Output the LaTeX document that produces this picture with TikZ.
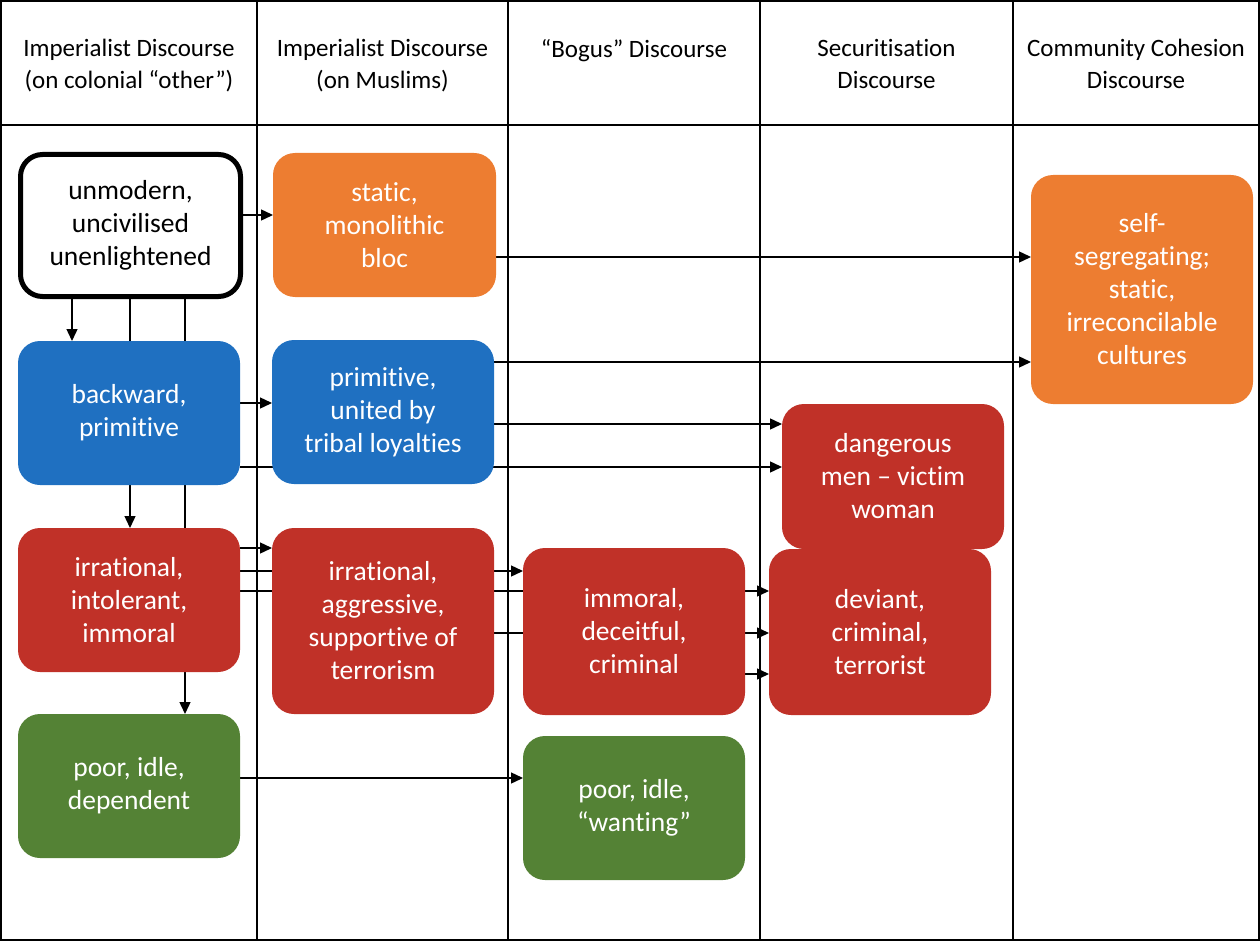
\documentclass[tikz,border=0pt]{standalone}
\usepackage{fontspec}
\setmainfont{Carlito}[Ligatures=NoCommon]
\usetikzlibrary{arrows.meta}
\pgfdeclarelayer{bg}
\pgfsetlayers{bg,main}
\definecolor{cOrange}{RGB}{237,125,49}
\definecolor{cBlue}{RGB}{31,112,193}
\definecolor{cRed}{RGB}{192,49,40}
\definecolor{cGreen}{RGB}{84,130,53}
\begin{document}
\begin{tikzpicture}[x=1pt,y=-1pt,
  box/.style={rectangle, rounded corners=22pt, text=white, align=center, inner sep=0pt, outer sep=0pt,
    minimum width=222pt, font=\fontsize{27.5}{33}\selectfont},
  hdr/.style={anchor=north, align=center, inner sep=0pt, font=\fontsize{25}{32}\selectfont},
  arr/.style={-{Triangle[length=12pt,width=11pt]}, line width=1.4pt},
  grid/.style={line width=1.6pt}]
\useasboundingbox (0,0) rectangle (1260,941);
% headers
\node[hdr] (h1) at (129,39) {Imperialist Discourse\\(on colonial “other”)};
\node[hdr] (h2) at (382.5,39) {Imperialist Discourse\\(on Muslims)};
\node[hdr] (h3) at (634,39) {“Bogus” Discourse};
\node[hdr] (h4) at (886.5,39) {Securitisation\\Discourse};
\node[hdr] (h5) at (1136,39) {Community Cohesion\\Discourse};
% boxes
\node[box, draw=black, line width=5pt, fill=white, text=black, minimum width=220pt, minimum height=142pt, outer sep=2.5pt] (A) at (130.5,225.5) {unmodern,\\uncivilised\\unenlightened};
\node[box, fill=cOrange, minimum width=223pt, minimum height=144pt] (B) at (384.5,225) {static,\\monolithic\\bloc};
\node[box, fill=cOrange, minimum height=229pt] (C) at (1142,289.5) {self-\\segregating;\\static,\\irreconcilable\\cultures};
\node[box, fill=cBlue, minimum height=144pt] (D) at (129,413) {backward,\\primitive};
\node[box, fill=cBlue, minimum height=144pt] (E) at (383,412) {primitive,\\united by\\tribal loyalties};
\node[box, fill=cRed, minimum height=145pt] (F) at (893,476.5) {dangerous\\men – victim\\woman};
\node[box, fill=cRed, minimum height=144pt] (G) at (129,600) {irrational,\\intolerant,\\immoral};
\node[box, fill=cRed, minimum height=186pt] (H) at (383,621) {irrational,\\aggressive,\\supportive of\\terrorism};
\node[box, fill=cRed, minimum height=167pt] (I) at (634,631.5) {immoral,\\deceitful,\\criminal};
\node[box, fill=cRed, minimum height=166pt] (J) at (880,632) {deviant,\\criminal,\\terrorist};
\node[box, fill=cGreen, minimum height=144pt] (K) at (129,786) {poor, idle,\\dependent};
\node[box, fill=cGreen, minimum height=144pt] (L) at (634,808) {poor, idle,\\“wanting”};
\begin{pgfonlayer}{bg}
% table
\draw[grid] (1,1) rectangle (1259,940);
\draw[grid] (1,125) -- (1259,125);
\foreach \x in {257,508,760,1013} \draw[grid] (\x,1) -- (\x,940);
% connectors
\draw[arr] (A.east |- 0,215) -- (B.west |- 0,215);
\draw[arr] (A.south -| 72,0) -- (D.north -| 72,0);
\draw[arr] (A.south -| 130,0) -- (G.north -| 130,0);
\draw[arr] (A.south -| 185,0) -- (K.north -| 185,0);
\draw[arr] (D.east |- 0,403) -- (E.west |- 0,403);
\draw[arr] (D.east |- 0,467) -- (F.west |- 0,467);
\draw[arr] (B.east |- 0,257) -- (C.west |- 0,257);
\draw[arr] (E.east |- 0,362) -- (C.west |- 0,362);
\draw[arr] (E.east |- 0,424) -- (F.west |- 0,424);
\draw[arr] (G.east |- 0,548) -- (H.west |- 0,548);
\draw[arr] (G.east |- 0,571) -- (I.west |- 0,571);
\draw[arr] (G.east |- 0,591) -- (J.west |- 0,591);
\draw[arr] (H.east |- 0,633) -- (J.west |- 0,633);
\draw[arr] (I.east |- 0,674) -- (J.west |- 0,674);
\draw[arr] (K.east |- 0,778) -- (L.west |- 0,778);
\end{pgfonlayer}
\end{tikzpicture}
\end{document}
